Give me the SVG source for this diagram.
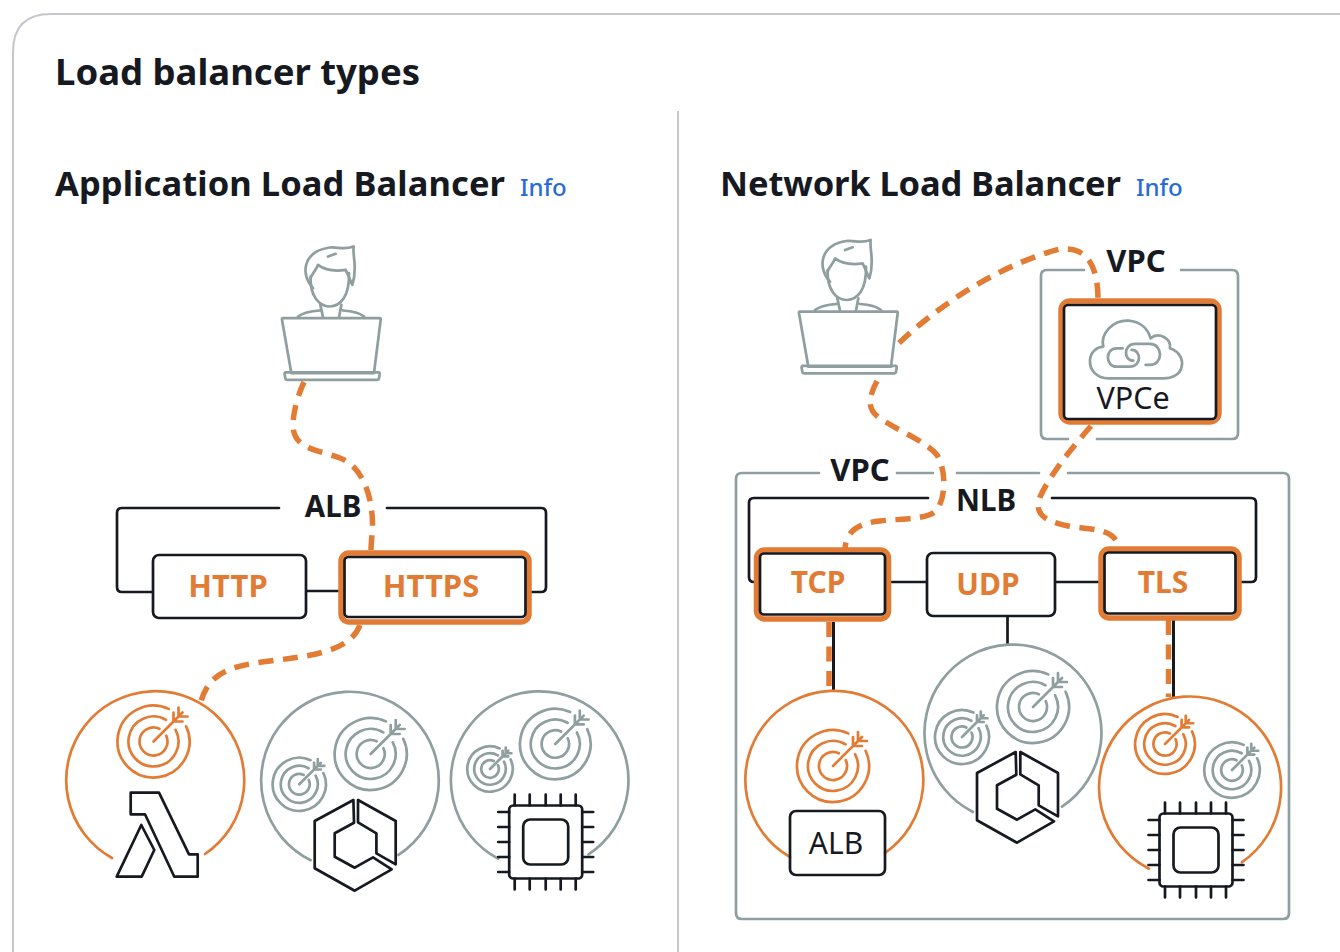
<svg xmlns="http://www.w3.org/2000/svg" width="1340" height="952" viewBox="0 0 1340 952">
<style>
text{font-family:"Noto Sans","Open Sans","Liberation Sans",sans-serif;fill:#16191f}
.h1{font-size:36.5px;font-weight:700}
.h2{font-size:34.500px;font-weight:700}
.info{font-size:24px;font-weight:500;fill:#2a6bd9}
.lb{font-size:29.500px;font-weight:700;text-anchor:middle}
.lo{font-size:30px;font-weight:700;text-anchor:middle;fill:#e27c35}
.ln{font-size:30.500px;font-weight:400;text-anchor:middle}
.k{fill:none;stroke:#16191f;stroke-width:2.700;stroke-linejoin:round;stroke-linecap:round}
.g{fill:none;stroke:#8f9e9e;stroke-width:2.700;stroke-linejoin:round;stroke-linecap:round}
.o{fill:none;stroke:#e27c35;stroke-width:2.700;stroke-linejoin:round;stroke-linecap:round}
.ob{fill:#fff;stroke:#e27c35;stroke-width:5.500}
.bx{fill:#fff;stroke:#16191f;stroke-width:2.700}
.d{fill:none;stroke:#e27c35;stroke-width:5.500;stroke-dasharray:15 9.500}
.s *{vector-effect:non-scaling-stroke}
</style>
<defs>
<g id="target" class="s">
<path d="M32.600-15.200A36 36 0 1 1 15.200-32.600"/>
<path d="M22.100-11.700A25 25 0 1 1 12.500-21.700"/>
<path d="M12.700-5.900A14 14 0 1 1 5.900-12.700"/>
<path d="M0 0L29-29M20-29V-20H29M25-34V-25H34"/>
</g>
<g id="laptop" transform="scale(.3333)" style="stroke-width:8.200">
<path d="M60 245H350Q354 245 353 250L333 410H85L57 250Q56 245 60 245Z"/>
<path d="M68 408H347Q351 408 350 414L348 425Q347 430 342 430H73Q68 430 67 425L65 414Q64 408 68 408Z"/>
<path d="M143 120C140 180 170 210 200 210C232 210 260 180 258 110"/>
<path d="M150 155C112 115 118 45 200 33C225 30 240 42 272 30C268 60 285 95 268 145C262 135 258 120 248 100C215 105 185 100 165 85C160 100 145 115 143 125"/>
<path d="M195 60L218 52M172 205L180 242M235 205L228 242M105 240Q125 225 170 222M240 222Q285 225 303 240"/>
</g>
<g id="hex">
<path d="M-1.300-45L-40-24V23.300L0 45.700L37 24.300L18.300 12.300L0 22.700L-20 11.700V-11.700L-.7-22.300Z"/>
<path d="M3.300-45L41-24V19.300L21.700 8.300V-11.700L3.300-22.700Z"/>
</g>
<g id="chip">
<rect x="-36.500" y="-36.500" width="73" height="73" rx="4"/>
<rect x="-22.500" y="-22.500" width="45" height="45" rx="7"/>
<path d="M-31-36.500V-47.500M-16-36.500V-47.500M0-36.500V-47.500M15-36.500V-47.500M30-36.500V-47.500M-31 36.500V47.500M-16 36.500V47.500M0 36.500V47.500M15 36.500V47.500M30 36.500V47.500M-36.500-30H-47.500M-36.500-15H-47.500M-36.500 0H-47.500M-36.500 15H-47.500M-36.500 30H-47.500M36.500-30H47.500M36.500-15H47.500M36.500 0H47.500M36.500 15H47.500M36.500 30H47.500"/>
</g>
</defs>
<rect width="1340" height="952" fill="#fff"/>
<g id="card">
<path d="M13 952V52Q13 14 51 14H1340" fill="none" stroke="#c6c6cd" stroke-width="2"/>
<path d="M678 111V952" fill="none" stroke="#c6c6cd" stroke-width="2"/>
<text class="h1" x="55" y="85" textLength="365">Load balancer types</text>
<text class="h2" x="55" y="196" textLength="450">Application Load Balancer</text>
<text class="info" x="520" y="196">Info</text>
<text class="h2" x="720" y="196" textLength="401">Network Load Balancer</text>
<text class="info" x="1136" y="196">Info</text>
</g>
<g id="vpc-main">
<path class="g" d="M819 473H742Q736 473 736 479V913Q736 919 742 919H1283Q1289 919 1289 913V479Q1289 473 1283 473H1068M1039 473H957M933 473H897"/>
<text class="lb" x="860" y="481" style="font-size:31px">VPC</text>
</g>
<g id="vpc-endpoint">
<path class="g" d="M1084 270H1047Q1041 270 1041 276V433Q1041 439 1047 439H1068M1097 439H1232Q1238 439 1238 433V276Q1238 270 1232 270H1181"/>
<text class="lb" x="1136" y="272" style="font-size:31px">VPC</text>
</g>
<g id="alb-bracket">
<path class="k" d="M279 508H122Q117 508 117 513V587Q117 592 122 592H153M387 508H541Q546 508 546 513V587Q546 592 541 592H530M306 591H340"/>
<text class="lb" x="333" y="517">ALB</text>
</g>
<g id="nlb-bracket">
<path class="k" d="M928 498H754Q749 498 749 503V577Q749 582 754 582H757M1052 498H1251Q1256 498 1256 503V577Q1256 582 1251 582H1240M890 582H927M1055 582H1100M1007.500 616V644"/>
<text class="lb" x="986" y="511">NLB</text>
</g>
<g id="connectors">
<path class="d" d="M304 382C298 395 293 412 293 425C293 450 320 450 340 458C362 466 372 495 372.500 523C372.500 535 371 542 371 550"/>
<path class="d" d="M360 625C350 652 310 656 270 661C230 666 208 672 200 705"/>
<path class="d" d="M899 343C950 295 1010 262 1060 249C1085 247 1098 262 1098 300"/>
<path class="d" d="M877 381C869 396 867 408 877 416C895 430 925 440 937 455C946 470 946 495 938 508C932 520 905 518 880 521C860 523 846 530 845 549"/>
<path class="d" d="M1091 426C1070 450 1050 475 1040 497C1035 512 1040 520 1068 526C1090 530 1115 527 1119 548"/>
<path class="d" d="M829 622V691M1168.500 620V697"/>
<path d="M833.500 622V691M1173.500 620V697" fill="none" stroke="#16191f" stroke-width="3"/>
</g>
<g id="http"><rect class="bx" x="153" y="555" width="153" height="63" rx="6"/><text class="lo" x="228" y="596.500" style="font-size:31px">HTTP</text></g>
<g id="https"><rect class="ob" x="341" y="553" width="188" height="69" rx="8"/><rect class="bx" x="344.500" y="557" width="181" height="60" rx="4"/><text class="lo" x="431" y="596.500" style="font-size:31px">HTTPS</text></g>
<g id="tcp"><rect class="ob" x="756.500" y="550" width="132" height="69" rx="8"/><rect class="bx" x="760" y="553.500" width="125" height="61" rx="4"/><text class="lo" x="818" y="593">TCP</text></g>
<g id="udp"><rect class="bx" x="927" y="553" width="128" height="63" rx="6"/><text class="lo" x="988" y="595">UDP</text></g>
<g id="tls"><rect class="ob" x="1101" y="549" width="138" height="69" rx="8"/><rect class="bx" x="1104.500" y="552.500" width="131" height="61" rx="4"/><text class="lo" x="1163" y="593">TLS</text></g>
<g id="vpce">
<rect class="ob" x="1061" y="301" width="158" height="121" rx="9"/><rect class="bx" x="1064" y="305" width="152" height="114" rx="4"/>
<g class="g" transform="translate(780 230) scale(.3333)" style="stroke-width:8.200">
<path d="M985 445C950 445 928 420 930 390C932 365 950 352 970 350C960 310 1000 270 1045 272C1085 275 1105 300 1112 325C1135 305 1175 325 1170 355C1200 365 1210 390 1205 410C1200 435 1175 445 1150 445Z"/>
<path d="M1028 355H1010C975 355 975 410 1010 410H1050C1085 410 1085 360 1055 360"/>
<path d="M1060 392C1030 392 1030 342 1065 342H1110C1150 342 1150 405 1110 405H1097"/>
</g>
<text class="ln" x="1133" y="409">VPCe</text>
</g>
<g id="user-alb" class="g"><use href="#laptop" transform="translate(263 236.500)"/></g>
<g id="user-nlb" class="g"><use href="#laptop" transform="translate(780 230)"/></g>
<g id="lambda-group">
<path class="o" d="M112 858A89 89 0 1 1 205 854"/>
<use class="o" href="#target" transform="translate(153.500 741.500)"/>
<path class="k" d="M130.700 792.700H159L189 854.300H197.700V876.700H174.300L145 814.300H130.700Z"/>
<path class="k" d="M141.300 825L154.300 850L141.700 876.700H116.700Z"/>
</g>
<g id="ecs-alb">
<path class="g" d="M310.700 860.200A88.800 88.800 0 1 1 398.500 854.900"/>
<use class="g" href="#target" transform="translate(299.300 784.300) scale(.74)"/>
<use class="g" href="#target" transform="translate(370.700 754)"/>
<use class="k" href="#hex" transform="translate(354.700 845)"/>
</g>
<g id="ec2-alb">
<path class="g" d="M498.300 858.700A88.800 88.800 0 1 1 588.500 854.300"/>
<use class="g" href="#target" transform="translate(490 769) scale(.63)"/>
<use class="g" href="#target" transform="translate(555.300 744) scale(.98)"/>
<use class="k" href="#chip" transform="translate(545.700 842)"/>
</g>
<g id="alb-target">
<path class="o" d="M790 857A89 89 0 1 1 885 853"/>
<use class="o" href="#target" transform="translate(833 766)"/>
<rect class="k" x="790" y="811" width="95" height="64" rx="6"/>
<text class="ln" x="836" y="854" style="font-size:30px">ALB</text>
</g>
<g id="ecs-nlb">
<path class="g" d="M973 812A88.500 88.500 0 1 1 1062 806.700"/>
<use class="g" href="#target" transform="translate(962 737) scale(.75)"/>
<use class="g" href="#target" transform="translate(1033 707)"/>
<use class="k" href="#hex" transform="translate(1017 797)"/>
</g>
<g id="ec2-nlb">
<path class="o" d="M1149 868.700A91 91 0 1 1 1242 862.200"/>
<use class="o" href="#target" transform="translate(1165 744) scale(.83)"/>
<use class="g" href="#target" transform="translate(1232 770) scale(.77)"/>
<use class="k" href="#chip" transform="translate(1196 850)"/>
</g>
</svg>
